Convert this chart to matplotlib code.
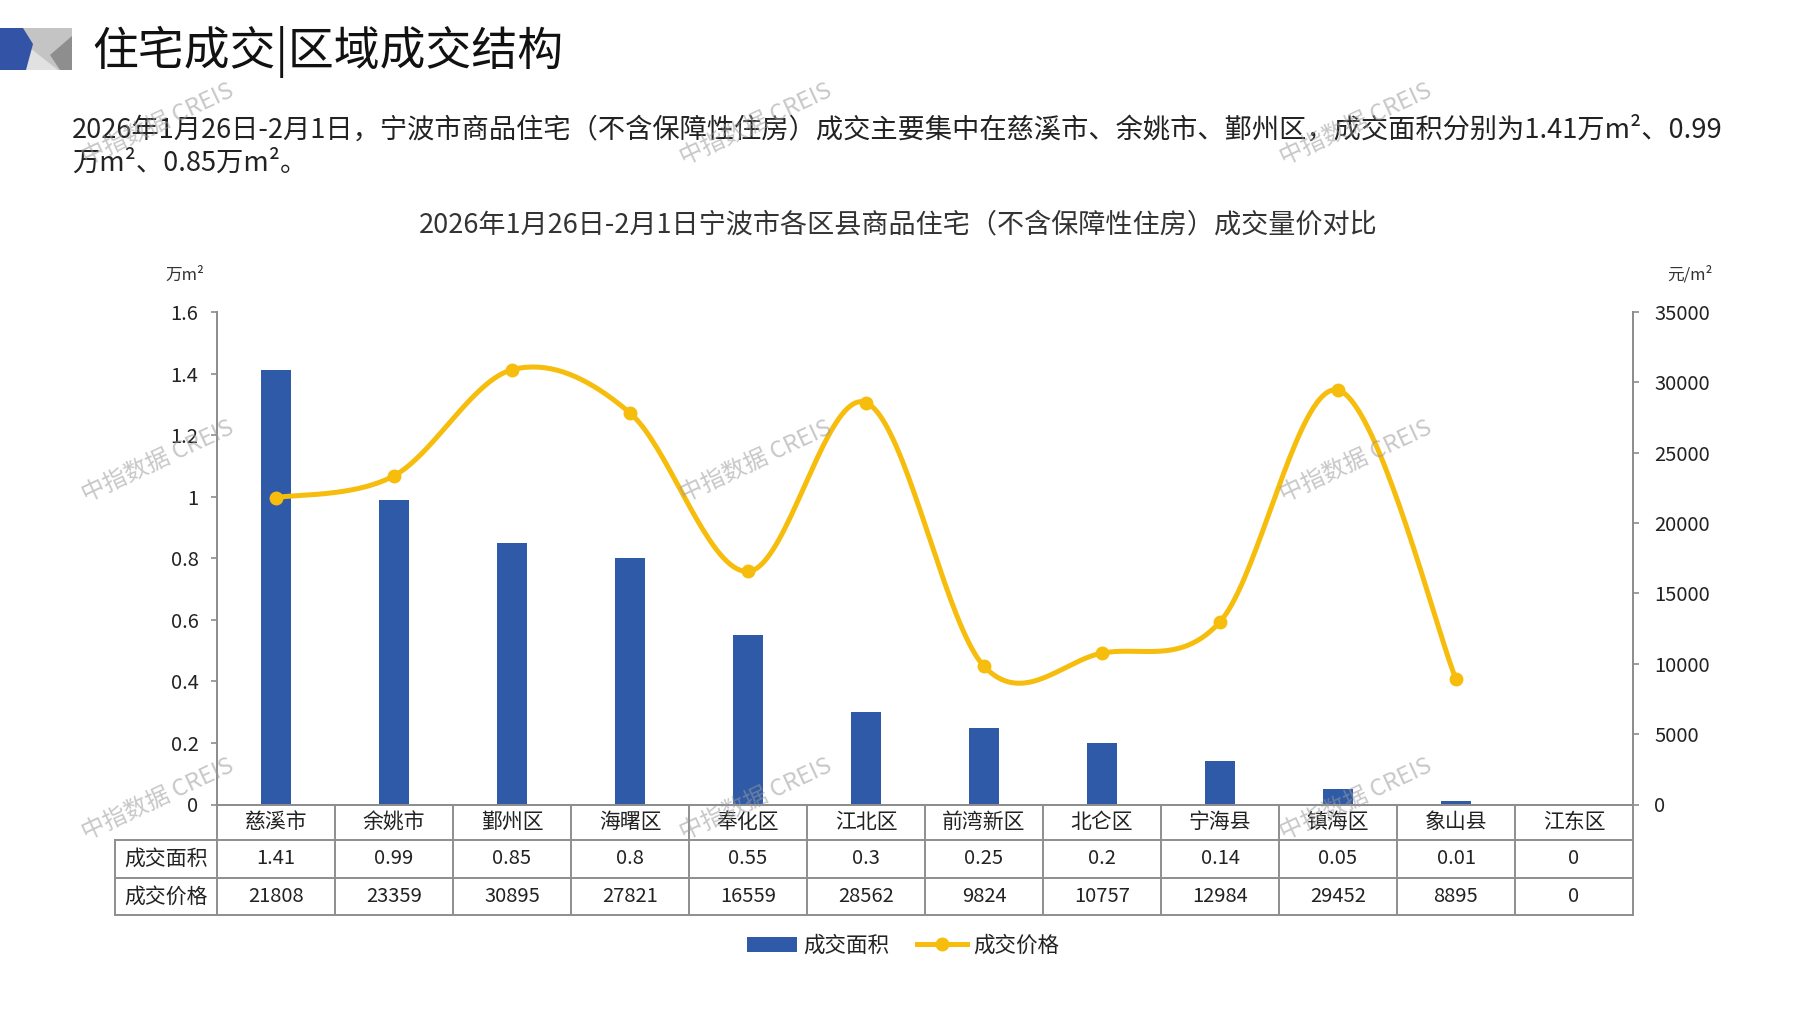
import numpy as np
import matplotlib
matplotlib.use("Agg")
import matplotlib.pyplot as plt
from matplotlib.patches import Polygon, Patch
from matplotlib.lines import Line2D
import matplotlib.transforms as mtransforms

plt.rcParams['font.family'] = ['Noto Sans CJK SC', 'DejaVu Sans']

# ---------------- data ----------------
districts = ["慈溪市", "余姚市", "鄞州区", "海曙区", "奉化区", "江北区",
             "前湾新区", "北仑区", "宁海县", "镇海区", "象山县", "江东区"]
area = [1.41, 0.99, 0.85, 0.8, 0.55, 0.3, 0.25, 0.2, 0.14, 0.05, 0.01, 0]
price = [21808, 23359, 30895, 27821, 16559, 28562, 9824, 10757, 12984, 29452, 8895, 0]
area_labels = ["1.41", "0.99", "0.85", "0.8", "0.55", "0.3", "0.25", "0.2", "0.14", "0.05", "0.01", "0"]
price_labels = ["21808", "23359", "30895", "27821", "16559", "28562", "9824", "10757", "12984", "29452", "8895", "0"]
# the price line is not drawn for 江东区 (no deals)
price_line = [21808, 23359, 30895, 27821, 16559, 28562, 9824, 10757, 12984, 29452, 8895]
left_ticks = [0, 0.2, 0.4, 0.6, 0.8, 1.0, 1.2, 1.4, 1.6]
left_tick_labels = ["0", "0.2", "0.4", "0.6", "0.8", "1", "1.2", "1.4", "1.6"]
right_ticks = [0, 5000, 10000, 15000, 20000, 25000, 30000, 35000]

title = "住宅成交|区域成交结构"
para1 = "2026年1月26日-2月1日，宁波市商品住宅（不含保障性住房）成交主要集中在慈溪市、余姚市、鄞州区，成交面积分别为1.41万m²、0.99"
para2 = "万m²、0.85万m²。"
chart_title = "2026年1月26日-2月1日宁波市各区县商品住宅（不含保障性住房）成交量价对比"
row_names = ["成交面积", "成交价格"]

BLUE = "#2E5AA7"
YELLOW = "#F6BD0C"
GRID = "#8E8E8E"

W, H = 1797, 1010
fig = plt.figure(figsize=(W / 100, H / 100), dpi=100)


def fx(x):
    return x / W


def fy(y):
    return 1 - y / H


# ---------------- header ----------------
logo_polys = [
    ([(23, 28), (72, 28), (72, 70), (23, 70)], "#C4C4C4"),
    ([(20, 40), (58, 70), (16, 70)], "#E1E1E1"),
    ([(72, 36), (72, 70), (60, 70), (50, 55)], "#8E8E8E"),
    ([(0, 28), (23, 28), (33, 44), (26, 70), (0, 70)], "#3353A6"),
]
for pts, col in logo_polys:
    fig.patches.append(Polygon([(fx(a), fy(b)) for a, b in pts], closed=True,
                               transform=fig.transFigure, facecolor=col,
                               edgecolor="none"))

fig.text(fx(92), fy(52), title, fontsize=33, va="center", ha="left", color="#111111")
fig.text(fx(72), fy(130), para1, fontsize=19.6, va="center", ha="left", color="#222222")
fig.text(fx(72), fy(163), para2, fontsize=19.6, va="center", ha="left", color="#222222")
fig.text(fx(898), fy(225), chart_title, fontsize=19.5, va="center", ha="center", color="#333333")
fig.text(fx(185), fy(275), "万m²", fontsize=12, va="center", ha="center", color="#333333")
fig.text(fx(1690), fy(275), "元/m²", fontsize=12, va="center", ha="center", color="#333333")

# ---------------- axes ----------------
L, R, T, B = 217, 1633, 312, 804.5
ax = fig.add_axes([fx(L), fy(B), (R - L) / W, (B - T) / H])
x = np.arange(len(districts))
ax.bar(x, area, width=0.25, color=BLUE, zorder=2)
ax.set_xlim(-0.5, len(districts) - 0.5)
ax.set_ylim(0, 1.6)
ax.set_yticks(left_ticks)
ax.set_yticklabels(left_tick_labels)
ax.set_xticks([])
ax.tick_params(axis="y", direction="out", length=4.3, width=1.2, color=GRID,
               pad=9, labelsize=14.5, labelcolor="#222222")
for s in ["top"]:
    ax.spines[s].set_visible(False)
for s in ["left", "right", "bottom"]:
    ax.spines[s].set_color(GRID)
    ax.spines[s].set_linewidth(1.4)

ax2 = ax.twinx()
ax2.set_ylim(0, 35000)
ax2.set_yticks(right_ticks)
ax2.set_yticklabels([str(v) for v in right_ticks])
ax2.tick_params(axis="y", direction="out", length=4.3, width=1.2, color=GRID,
                pad=11, labelsize=14.5, labelcolor="#222222")
ax2.spines["top"].set_visible(False)
for s in ["left", "right", "bottom"]:
    ax2.spines[s].set_color(GRID)
    ax2.spines[s].set_linewidth(1.4)


# smooth line (Excel-like cubic Bezier / Catmull-Rom)
def smooth(xs, ys, n=40):
    pts = np.column_stack([xs, ys]).astype(float)
    out = []
    for i in range(len(pts) - 1):
        p0 = pts[i - 1] if i > 0 else pts[i]
        p1 = pts[i]
        p2 = pts[i + 1]
        p3 = pts[i + 2] if i + 2 < len(pts) else pts[i + 1]
        c1 = p1 + (p2 - p0) / 6.0
        c2 = p2 - (p3 - p1) / 6.0
        t = np.linspace(0, 1, n)[:, None]
        seg = ((1 - t) ** 3) * p1 + 3 * ((1 - t) ** 2) * t * c1 + 3 * (1 - t) * t ** 2 * c2 + t ** 3 * p2
        out.append(seg if i == 0 else seg[1:])
    out = np.vstack(out)
    return out[:, 0], out[:, 1]


xl = np.arange(len(price_line))
sx, sy = smooth(xl, price_line)
ax2.plot(sx, sy, color=YELLOW, lw=3.6, solid_capstyle="round", zorder=3)
ax2.plot(xl, price_line, "o", color=YELLOW, ms=9, zorder=4)

# ---------------- table ----------------
trans = mtransforms.blended_transform_factory(ax.transData, ax.transAxes)
ah = B - T
rows_px = [B, 840, 878, 914.5]
rows = [-(r - B) / ah for r in rows_px]
xleft = (114.6 - L) / ((R - L) / 12) - 0.5
nx = len(districts)
kw = dict(transform=trans, color=GRID, lw=1.4, clip_on=False, zorder=5)
for r in rows[1:]:
    ax.plot([xleft, nx - 0.5], [r, r], **kw)
for i in range(nx + 1):
    ax.plot([i - 0.5, i - 0.5], [rows[0], rows[3]], **kw)
ax.plot([xleft, xleft], [rows[1], rows[3]], **kw)

for i in range(nx):
    ax.text(i, (rows[0] + rows[1]) / 2, districts[i], transform=trans, ha="center",
            va="center", fontsize=15, color="#222222")
    ax.text(i, (rows[1] + rows[2]) / 2, area_labels[i], transform=trans, ha="center",
            va="center", fontsize=14.5, color="#222222")
    ax.text(i, (rows[2] + rows[3]) / 2, price_labels[i], transform=trans, ha="center",
            va="center", fontsize=14.5, color="#222222")
xc = (xleft - 0.5) / 2
ax.text(xc, (rows[1] + rows[2]) / 2, row_names[0], transform=trans, ha="center",
        va="center", fontsize=15, color="#222222")
ax.text(xc, (rows[2] + rows[3]) / 2, row_names[1], transform=trans, ha="center",
        va="center", fontsize=15, color="#222222")

# ---------------- legend ----------------
handles = [Patch(facecolor=BLUE, edgecolor="none"),
           Line2D([0], [0], color=YELLOW, lw=3.6, marker="o", ms=9)]
fig.legend(handles, row_names, loc="center", bbox_to_anchor=(fx(903), fy(946)),
           ncol=2, frameon=False, fontsize=15.5, handlelength=2.3, handletextpad=0.3,
           columnspacing=1.3, labelcolor="#222222")

# ---------------- watermarks ----------------
for wxp in [158, 756, 1356]:
    for wyp in [124, 461, 799]:
        fig.text(fx(wxp), fy(wyp), "中指数据 CREIS", fontsize=17, rotation=25,
                 ha="center", va="center", color="#9A9A9A", alpha=0.55, zorder=20)

fig.savefig("out.png", dpi=100)
